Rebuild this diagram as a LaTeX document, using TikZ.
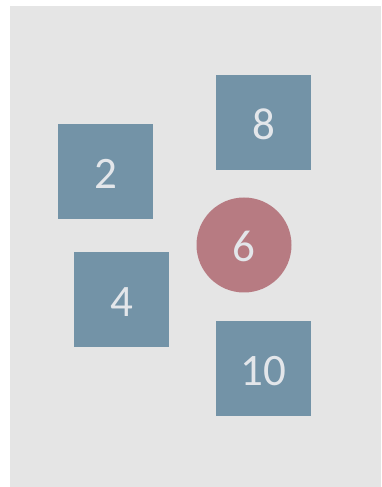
\documentclass[tikz,border=0pt]{standalone}
\usepackage{fontspec}
\setmainfont{Carlito}
\definecolor{bg}{HTML}{E5E5E5}
\definecolor{boxc}{HTML}{7393A7}
\definecolor{circc}{HTML}{B77B82}
\definecolor{txt}{HTML}{E3E6EA}
\begin{document}
\begin{tikzpicture}[x=1pt,y=1pt,
  sq/.style={rectangle,fill=boxc,minimum size=95pt,inner sep=0pt,text=txt,font=\fontsize{45}{45}\selectfont,text height=34pt,text depth=0pt},
  circ/.style={circle,fill=circc,minimum size=95pt,inner sep=0pt,text=txt,font=\fontsize{45}{45}\selectfont,text height=34pt,text depth=0pt}]
\useasboundingbox (0,0) rectangle (381,487);
\fill[bg] (10,0) rectangle (381,481);
\node[sq] (n2) at (105.5,315.5) {2};
\node[sq] (n8) at (263.5,364.5) {8};
\node[sq] (n4) at (121.5,187.5) {4};
\node[sq] (n10) at (263.5,118.5) {10};
\node[circ] (n6) at (244,242) {6};
\end{tikzpicture}
\end{document}
